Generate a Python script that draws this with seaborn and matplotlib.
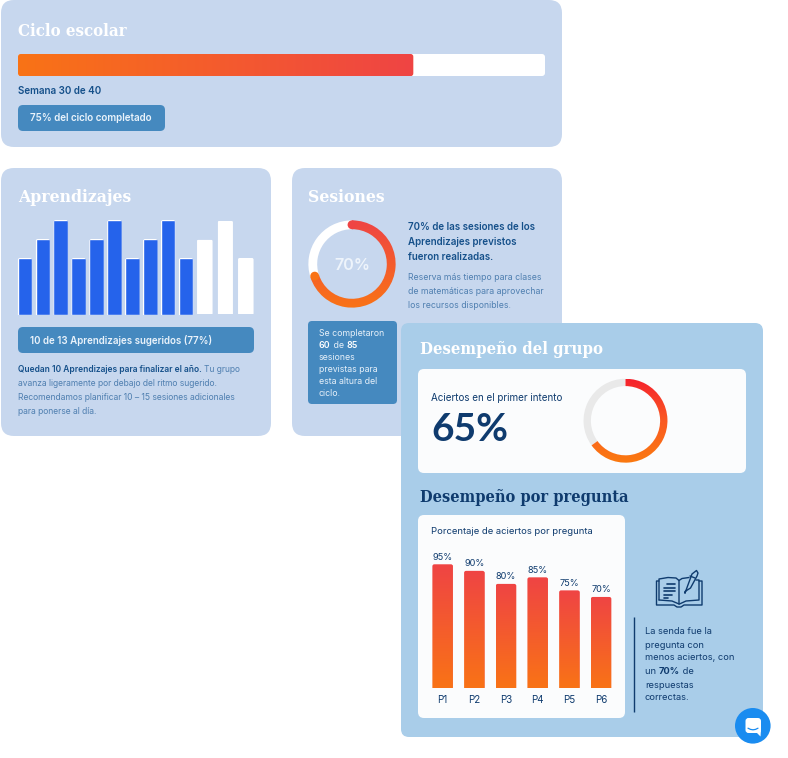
import numpy as np
import pandas as pd
import matplotlib
matplotlib.use("Agg")
import matplotlib.pyplot as plt
from matplotlib.colors import LinearSegmentedColormap
from matplotlib.patches import FancyBboxPatch, Circle, PathPatch
from matplotlib.path import Path
import seaborn as sns

# ---- data ----
ciclo_semana = 30
ciclo_total = 40
aprend_hechos = [3, 4, 5, 3, 4, 5, 3, 4, 5, 3]
aprend_restantes = [4, 5, 3]
sesiones_pct = 70
primer_intento_pct = 65
preguntas = ["P1", "P2", "P3", "P4", "P5", "P6"]
aciertos = [95, 90, 80, 85, 75, 70]

W, H = 788, 758
CARD = "#c7d7ee"
CARD2 = "#a9cde9"
BADGE = "#4589bf"
BLUE = "#2563eb"
NAVY = "#0f3b6e"
TXT = "#15508a"
SOFT = "#4f7fb0"
RED = "#ef4444"
ORANGE = "#f97316"
SERIF = "DejaVu Serif"
SANS = "Inter"
BOLD = "semibold"

sns.set_theme(style="white")
plt.rcParams["font.family"] = [SANS, "DejaVu Sans"]

fig = plt.figure(figsize=(W / 100, H / 100), dpi=100, facecolor="white")
bg = fig.add_axes([0, 0, 1, 1], zorder=0)
bg.set_xlim(0, W)
bg.set_ylim(H, 0)
bg.axis("off")
top = fig.add_axes([0, 0, 1, 1], zorder=20)
top.set_xlim(0, W)
top.set_ylim(H, 0)
top.axis("off")
top.patch.set_alpha(0)


def box(ax, x0, y0, x1, y1, r, color, z=1, ec="none"):
    p = FancyBboxPatch((x0, y0), x1 - x0, y1 - y0,
                       boxstyle=f"round,pad=0,rounding_size={r}",
                       fc=color, ec=ec, lw=0, zorder=z)
    ax.add_patch(p)
    return p


def txt(ax, x, y, s, size, color, weight="normal", family=SANS, z=5, **kw):
    return ax.text(x, y, s, fontsize=size, color=color, fontweight=weight,
                   family=family, va="center", ha=kw.pop("ha", "left"), zorder=z, **kw)


def title(ax, x, y, s, color, size):
    return txt(ax, x, y, s, size, color, "bold", SERIF, fontstretch="condensed")


def runs(ax, x, y, parts, size, z=5):
    r = fig.canvas.get_renderer()
    for s, color, weight in parts:
        t = txt(ax, x, y, s, size, color, weight, z=z)
        x += t.get_window_extent(r).width


def pax(x0, y0, x1, y1, z=3):
    a = fig.add_axes([x0 / W, 1 - y1 / H, (x1 - x0) / W, (y1 - y0) / H], zorder=z)
    a.patch.set_alpha(0)
    return a


def strip(a):
    a.set_xlabel("")
    a.set_ylabel("")
    sns.despine(ax=a, left=True, bottom=True)
    a.set_yticks([])
    a.tick_params(length=0)


def round_bars(a, r_px, gradient=None):
    """Round the corners of the seaborn bars, optionally fill with a gradient."""
    fig.canvas.draw()
    bb = a.get_window_extent()
    xl, yl = a.get_xlim(), a.get_ylim()
    px = bb.width / (xl[1] - xl[0])
    py = bb.height / (yl[1] - yl[0])
    for b in list(a.patches):
        x, w, h = b.get_x(), b.get_width(), b.get_height()
        rx, ry = r_px / px, r_px / py
        clip = FancyBboxPatch((x, -ry), w, h + ry,
                              boxstyle=f"round,pad=0,rounding_size={rx}",
                              mutation_aspect=px / py, transform=a.transData,
                              fc="none", ec="none")
        a.add_patch(clip)
        b.set_clip_path(clip)
        if gradient is not None:
            im = a.imshow(np.linspace(0, 1, 128).reshape(-1, 1), cmap=gradient,
                          extent=(x, x + w, 0, h), origin="upper", aspect="auto",
                          zorder=b.get_zorder() + 1)
            im.set_clip_path(clip)
    a.set_xlim(xl)
    a.set_ylim(yl)


def donut(cx, cy, r, frac_pct, track, cmap, thick, caps=False):
    a = pax(cx - r, cy - r, cx + r, cy + r, z=4)
    a.set_aspect("equal")
    wedges, _ = a.pie([frac_pct, 100 - frac_pct], startangle=90, counterclock=False,
                      colors=["none", track], radius=1,
                      wedgeprops=dict(width=thick / r, lw=0))
    g = np.linspace(0, 1, 256).reshape(-1, 1)
    end = np.deg2rad(90 - 360 * frac_pct / 100)
    mid = 1 - thick / (2 * r)
    if caps:
        a.add_patch(Circle((0, mid), thick / (2 * r), fc=cmap(0.0), lw=0, zorder=3))
        a.add_patch(Circle((mid * np.cos(end), mid * np.sin(end)), thick / (2 * r),
                           fc=cmap(1.0), lw=0, zorder=3, clip_on=False))
    im = a.imshow(g, cmap=cmap, extent=(-1, 1, -1, 1), origin="upper", aspect="auto", zorder=2)
    im.set_clip_path(wedges[0])
    a.set_xlim(-1.02, 1.02)
    a.set_ylim(-1.02, 1.02)
    a.axis("off")
    return a


grad_v = LinearSegmentedColormap.from_list("rv", [RED, ORANGE])

# ---- Card 1: ciclo escolar ----
box(bg, 1, 0, 562, 147, 13, CARD)
title(bg, 18, 31, "Ciclo escolar", "white", 12.1)
box(bg, 18, 54, 545, 76, 3, "white", 2)
pa = pax(18, 54, 545, 76)
prog = pd.DataFrame({"v": [ciclo_semana / ciclo_total * 100], "c": ["a"]})
sns.barplot(data=prog, x="v", y="c", color=ORANGE, ax=pa, width=1, saturation=1, legend=False)
pa.set_xlim(0, 100)
pa.set_ylim(0.5, -0.5)
strip(pa)
pa.set_xticks([])
pa.set_yticks([])
b = pa.patches[0]
clip = box(pa, 0, -0.5, b.get_width(), 0.5, 0, "none")
clip.set_boxstyle("round,pad=0,rounding_size=0.5")
clip.set_y(-0.5)
clip.set_height(1)
clip.set_mutation_aspect((527 / 100) / 22)
im = pa.imshow(np.linspace(0, 1, 256).reshape(1, -1),
               cmap=LinearSegmentedColormap.from_list("rh", [ORANGE, RED]),
               extent=(0, b.get_width(), 0.5, -0.5), aspect="auto", zorder=4)
b.set_clip_path(clip)
im.set_clip_path(clip)
pa.set_xlim(0, 100)
pa.set_ylim(0.5, -0.5)
pa.axis("off")
txt(bg, 18, 90.5, f"Semana {ciclo_semana} de {ciclo_total}", 7.1, TXT, BOLD)
box(bg, 18, 105, 165, 131, 5, BADGE, 2)
txt(bg, 30, 118, "75% del ciclo completado", 7.1, "#eaf3fb", BOLD)

# ---- Card 2: aprendizajes ----
box(bg, 1, 168, 271, 436, 13, CARD)
title(bg, 18, 197, "Aprendizajes", "white", 12.6)

a1 = pax(16, 220, 195, 315)
sns.barplot(x=list(range(len(aprend_hechos))), y=aprend_hechos, color=BLUE, width=0.82,
            saturation=1, ax=a1, legend=False)
a1.set_ylim(0, 5)
strip(a1)
a1.set_xticks([])
round_bars(a1, 2)

a2 = pax(194.5, 221, 256, 313.5)
sns.barplot(x=list(range(len(aprend_restantes))), y=aprend_restantes, color="white", width=0.75,
            saturation=1, ax=a2, legend=False)
a2.set_ylim(0, 5)
strip(a2)
a2.set_xticks([])
round_bars(a2, 1.5)

box(bg, 18, 327, 254, 353, 5, BADGE, 2)
txt(bg, 30, 340, f"{len(aprend_hechos)} de {len(aprend_hechos) + len(aprend_restantes)} Aprendizajes sugeridos (77%)",
    7.0, "#eaf3fb", BOLD)
runs(bg, 18, 369, [("Quedan 10 Aprendizajes para finalizar el año. ", TXT, BOLD),
                   ("Tu grupo", SOFT, "normal")], 6.05)
txt(bg, 18, 383, "avanza ligeramente por debajo del ritmo sugerido.", 6.1, SOFT)
txt(bg, 18, 397.5, "Recomendamos planificar 10 – 15 sesiones adicionales", 6.15, SOFT)
txt(bg, 18, 412, "para ponerse al día.", 6.1, SOFT)

# ---- Card 3: sesiones ----
box(bg, 292, 168, 562, 436, 13, CARD)
title(bg, 308, 197, "Sesiones", "white", 12.6)
donut(352, 264, 44.5, sesiones_pct, "white", grad_v, 9, caps=True)
txt(top, 352, 265, f"{sesiones_pct}%", 11.6, "#eef4fb", BOLD, ha="center")
for y, s in zip([227, 242, 257], ["70% de las sesiones de los", "Aprendizajes previstos", "fueron realizadas."]):
    txt(bg, 408, y, s, 7.0, TXT, BOLD)
for y, s in zip([277, 292, 306], ["Reserva más tiempo para clases", "de matemáticas para aprovechar",
                                  "los recursos disponibles."]):
    txt(bg, 408, y, s, 6.25, SOFT)
box(bg, 308, 321, 397, 404, 4, BADGE, 2)
W1 = "#e6f0f9"
txt(bg, 319, 333, "Se completaron", 6.3, W1)
runs(bg, 319, 345, [("60", "white", BOLD), (" de ", W1, "normal"), ("85", "white", BOLD)], 6.3)
for y, s in zip([357, 369, 381, 393], ["sesiones", "previstas para", "esta altura del", "ciclo."]):
    txt(bg, 319, y, s, 6.3, W1)

# ---- Card 4: desempeño ----
panel = fig.add_axes([0, 0, 1, 1], zorder=6)
panel.set_xlim(0, W)
panel.set_ylim(H, 0)
panel.axis("off")
panel.patch.set_alpha(0)
box(panel, 401, 323, 763, 737, 8, CARD2)
title(panel, 420, 349, "Desempeño del grupo", "white", 12.0)
box(panel, 418, 369, 746, 473, 6, "#fbfcfd", 2)
txt(panel, 431, 398, "Aciertos en el primer intento", 7.1, NAVY)
txt(panel, 431, 429.5, f"{primer_intento_pct}%", 28, NAVY, "bold", family="Lato")
a = donut(625.5, 420.7, 42.8, primer_intento_pct, "#e9e9e9",
          LinearSegmentedColormap.from_list("r2", ["#f5222d", "#fa5a22", "#fb7a10"]), 7.5)
a.set_zorder(8)

title(panel, 420, 498, "Desempeño por pregunta", NAVY, 11.7)
box(panel, 418, 515, 625, 718, 6, "#fbfcfd", 2)
txt(panel, 431, 532, "Porcentaje de aciertos por pregunta", 6.8, NAVY)

a3 = pax(426.8, 557.8, 616.9, 688.3, z=8)
df = pd.DataFrame({"pregunta": preguntas, "aciertos": aciertos})
sns.barplot(data=df, x="pregunta", y="aciertos", color=RED, width=0.645, saturation=1, ax=a3, legend=False)
a3.set_ylim(0, 100)
strip(a3)
a3.tick_params(axis="x", pad=4.5, labelsize=7.0, labelcolor=NAVY)
a3.set_facecolor("none")
round_bars(a3, 2, gradient=grad_v)
for c in a3.containers:
    a3.bar_label(c, fmt="%g%%", fontsize=6.6, color=NAVY, padding=2)

panel.plot([634.5, 634.5], [617, 712], color=NAVY, lw=1.0, zorder=3, solid_capstyle="butt")
for y, parts in zip([631, 645, 658, 671.5, 685, 698],
                    [[("La senda fue la", NAVY, "normal")], [("pregunta con", NAVY, "normal")],
                     [("menos aciertos, con", NAVY, "normal")],
                     [("un ", NAVY, "normal"), (f"{aciertos[-1]}%", NAVY, "bold"), (" de", NAVY, "normal")],
                     [("respuestas", NAVY, "normal")], [("correctas.", NAVY, "normal")]]):
    runs(panel, 645, y, parts, 6.7)

# ---- book icon ----
ic = dict(color=NAVY, lw=1.0, zorder=4, solid_capstyle="round", solid_joinstyle="round")
panel.plot([659, 659, 668, 676, 679, 679], [600, 579, 577.5, 578, 580.5, 604], **ic)
panel.plot([679, 682, 689], [580.5, 578.5, 577.5], **ic)
panel.plot([696, 699, 699, 686, 679.5], [580, 580, 600, 601, 604], **ic)
panel.plot([659, 672, 679], [600, 601, 604], **ic)
panel.plot([659, 656.5, 656.5, 674, 677, 681, 684, 702, 702, 699],
           [581, 581, 605, 605, 607, 607, 605, 605, 581, 581], **ic)
for y, x1 in zip([584, 587.5, 591, 594.5, 598], [675, 675, 675, 672, 668]):
    panel.plot([664 if y > 587 else 667, x1], [y, y], color=NAVY, lw=1.2, zorder=4)
panel.plot([685, 692, 696.5, 698, 697, 690.5, 685, 685], [593, 574, 570.5, 573, 576, 588, 591.5, 593], **ic)
panel.plot([690, 695], [576, 578], **ic)

# ---- chat button ----
top.add_patch(Circle((752.8, 725.8), 17.8, fc="#1a8cf0", ec="none", zorder=6))
box(top, 745.5, 718, 761, 733, 3, "white", 7)
top.add_patch(PathPatch(Path([(756, 732), (760.5, 736.5), (761, 730), (756, 732)]), fc="white", lw=0, zorder=7))
top.plot(np.linspace(748, 758, 5), [728.2, 729.4, 729.8, 729.4, 728.2], color="#1a8cf0", lw=0.9, zorder=8)

fig.savefig("out.png", dpi=100, facecolor="white")
